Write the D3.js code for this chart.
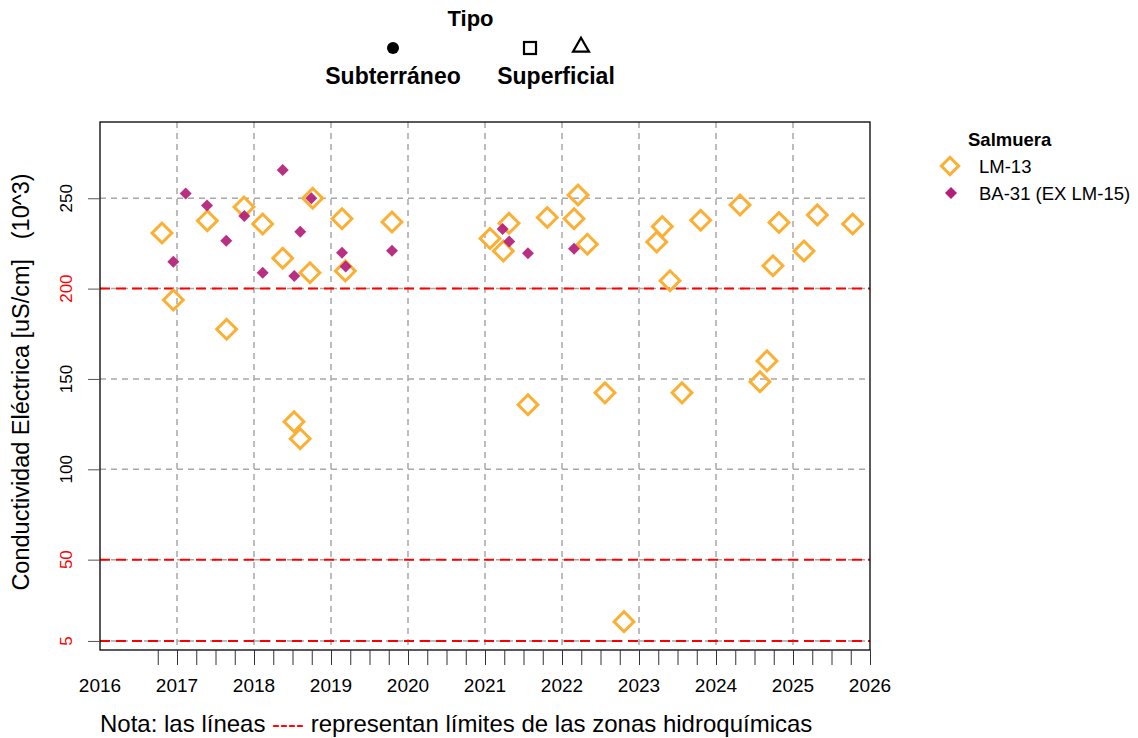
<!DOCTYPE html>
<html>
<head>
<meta charset="utf-8">
<script src="https://cdn.jsdelivr.net/npm/d3@7"></script>
<style>
  html, body { margin: 0; padding: 0; background: #fff; }
  svg { display: block; font-family: "Liberation Sans", Arial, sans-serif; }
  text { white-space: pre; }
</style>
</head>
<body>
<svg id="chart" width="1138" height="738"></svg>
<script>
// ---- Data (decimal years, conductivity in 10^3 uS/cm) ----
const lm13Dates = [2016.805, 2016.952, 2017.394, 2017.645, 2017.870, 2018.113, 2018.373, 2018.520, 2018.600,
  2018.727, 2018.762, 2019.143, 2019.186, 2019.792, 2021.065, 2021.238, 2021.312, 2021.558, 2021.809,
  2022.156, 2022.208, 2022.329, 2022.558, 2022.805, 2023.230, 2023.303, 2023.403, 2023.558, 2023.801,
  2024.312, 2024.571, 2024.662, 2024.740, 2024.818, 2025.143, 2025.316, 2025.775];
const lm13Values = [230.8, 193.7, 237.5, 177.5, 245.2, 235.8, 216.8, 126.3, 116.9,
  208.8, 250.0, 238.7, 209.8, 236.9, 227.7, 220.8, 236.2, 135.7, 239.3,
  238.7, 251.8, 224.6, 142.3, 15.7, 225.8, 234.3, 204.4, 142.3, 237.8,
  246.3, 148.4, 160.0, 212.6, 236.6, 220.8, 240.8, 235.8];
const ba31Dates = [2016.952, 2017.113, 2017.390, 2017.640, 2017.874, 2018.113, 2018.373, 2018.523, 2018.601,
  2018.744, 2019.143, 2019.191, 2019.792, 2021.229, 2021.315, 2021.558, 2022.156];
const ba31Values = [214.9, 252.6, 246.0, 226.5, 240.2, 208.8, 265.6, 207.0, 231.5,
  250.0, 219.9, 212.2, 221.0, 233.0, 226.0, 219.6, 222.1];

const seriesNames = ["LM-13", "BA-31 (EX LM-15)"];
const xTickYears = [2016, 2017, 2018, 2019, 2020, 2021, 2022, 2023, 2024, 2025, 2026];
const yTicks = [5, 50, 100, 150, 200, 250];
const limitLines = [200, 50, 5];
const gridY = [250, 150, 100, 200, 50, 5];
const tipoLabels = ["Subterráneo", "Superficial"];

// ---- Layout ----
const svg = d3.select("#chart");
const L = 100, R = 870, T = 122, B = 650;
const x = d3.scaleLinear().domain([2016, 2026]).range([L, R]);
const y = d3.scaleLinear().domain([0, 292.2]).range([B, T]);

const orange = "#FBB034";
const purple = "#B31E78";

// grid
const g = svg.append("g");
g.selectAll("line.vg").data(xTickYears.filter(d => d > 2016 && d < 2026)).enter().append("line")
  .attr("x1", d => x(d)).attr("x2", d => x(d)).attr("y1", T).attr("y2", B)
  .attr("stroke", "#a8a8a8").attr("stroke-width", 1.5).attr("stroke-dasharray", "6,5");
g.selectAll("line.hg").data(gridY).enter().append("line")
  .attr("x1", L).attr("x2", R).attr("y1", d => y(d)).attr("y2", d => y(d))
  .attr("stroke", "#a8a8a8").attr("stroke-width", 1.5).attr("stroke-dasharray", "6,5");
g.selectAll("line.lim").data(limitLines).enter().append("line")
  .attr("x1", L).attr("x2", R).attr("y1", d => y(d)).attr("y2", d => y(d))
  .attr("stroke", "#ff0000").attr("stroke-width", 2).attr("stroke-dasharray", "10,6");

// points
const lm13 = lm13Dates.map((d, i) => ({ t: d, v: lm13Values[i] }));
const ba31 = ba31Dates.map((d, i) => ({ t: d, v: ba31Values[i] }));

svg.append("g").selectAll("path").data(lm13).enter().append("path")
  .attr("d", d3.symbol().type(d3.symbolSquare).size(196)())
  .attr("transform", d => `translate(${x(d.t)},${y(d.v)}) rotate(45)`)
  .attr("fill", "none").attr("stroke", orange).attr("stroke-width", 3);

svg.append("g").selectAll("path").data(ba31).enter().append("path")
  .attr("d", d3.symbol().type(d3.symbolSquare).size(72)())
  .attr("transform", d => `translate(${x(d.t)},${y(d.v)}) rotate(45)`)
  .attr("fill", purple).attr("fill-opacity", 0.92);

// box
svg.append("rect").attr("x", L).attr("y", T).attr("width", R - L).attr("height", B - T)
  .attr("fill", "none").attr("stroke", "#000").attr("stroke-width", 1.3);

// x axis (quarterly ticks)
const xTicksMinor = d3.range(2016.75, 2026.001, 0.25);
const xAxis = d3.axisBottom(x).tickValues(xTicksMinor).tickSize(15).tickFormat("");
const xa = svg.append("g").attr("transform", `translate(0,${B})`).call(xAxis);
xa.select(".domain").remove();
xa.selectAll(".tick line").attr("stroke", "#333").attr("stroke-width", 1);
svg.append("g").selectAll("text").data(xTickYears).enter().append("text")
  .attr("x", d => x(d)).attr("y", 692).attr("text-anchor", "middle")
  .attr("font-size", 19).attr("fill", "#000").text(d => d);

// y axis
const yAxis = d3.axisLeft(y).tickValues(yTicks).tickSize(12).tickFormat("");
const ya = svg.append("g").attr("transform", `translate(${L},0)`).call(yAxis);
ya.select(".domain").remove();
ya.selectAll(".tick line").attr("stroke", "#555");
svg.append("g").selectAll("text").data(yTicks).enter().append("text")
  .attr("transform", d => `translate(72,${y(d)}) rotate(-90)`)
  .attr("text-anchor", "middle").attr("font-size", 17)
  .attr("fill", d => limitLines.includes(d) ? "#ff0000" : "#000").text(d => d);

// y title
svg.append("text").attr("transform", "translate(29,382) rotate(-90)")
  .attr("text-anchor", "middle").attr("font-size", 23.5).attr("fill", "#000")
  .text("Conductividad Eléctrica [uS/cm]   (10^3)");

// top legend (Tipo)
svg.append("text").attr("x", 470.5).attr("y", 26).attr("text-anchor", "middle")
  .attr("font-size", 22).attr("font-weight", "bold").text("Tipo");
svg.append("circle").attr("cx", 393).attr("cy", 48).attr("r", 6).attr("fill", "#000");
svg.append("rect").attr("x", 524).attr("y", 42).attr("width", 12).attr("height", 12)
  .attr("fill", "none").attr("stroke", "#000").attr("stroke-width", 2.2);
svg.append("path").attr("d", d3.symbol().type(d3.symbolTriangle).size(110)())
  .attr("transform", "translate(581,47)").attr("fill", "none").attr("stroke", "#000").attr("stroke-width", 2.2);
svg.append("text").attr("x", 393).attr("y", 84).attr("text-anchor", "middle")
  .attr("font-size", 23).attr("font-weight", "bold").text(tipoLabels[0]);
svg.append("text").attr("x", 556).attr("y", 84).attr("text-anchor", "middle")
  .attr("font-size", 23).attr("font-weight", "bold").text(tipoLabels[1]);

// right legend (Salmuera)
svg.append("text").attr("x", 968).attr("y", 146).attr("font-size", 18.5)
  .attr("font-weight", "bold").text("Salmuera");
svg.append("path").attr("d", d3.symbol().type(d3.symbolSquare).size(150)())
  .attr("transform", "translate(950,166) rotate(45)")
  .attr("fill", "none").attr("stroke", orange).attr("stroke-width", 3);
svg.append("path").attr("d", d3.symbol().type(d3.symbolSquare).size(72)())
  .attr("transform", "translate(951,193) rotate(45)").attr("fill", purple);
svg.append("text").attr("x", 979).attr("y", 173).attr("font-size", 18.5).text(seriesNames[0]);
svg.append("text").attr("x", 979).attr("y", 200).attr("font-size", 18.5).text(seriesNames[1]);

// note
const note = svg.append("text").attr("x", 100).attr("y", 732).attr("font-size", 24);
note.append("tspan").attr("fill", "#000").text("Nota: las líneas ");
note.append("tspan").attr("fill", "#ff0000").text("----");
note.append("tspan").attr("fill", "#000").text(" representan límites de las zonas hidroquímicas");
</script>
</body>
</html>
